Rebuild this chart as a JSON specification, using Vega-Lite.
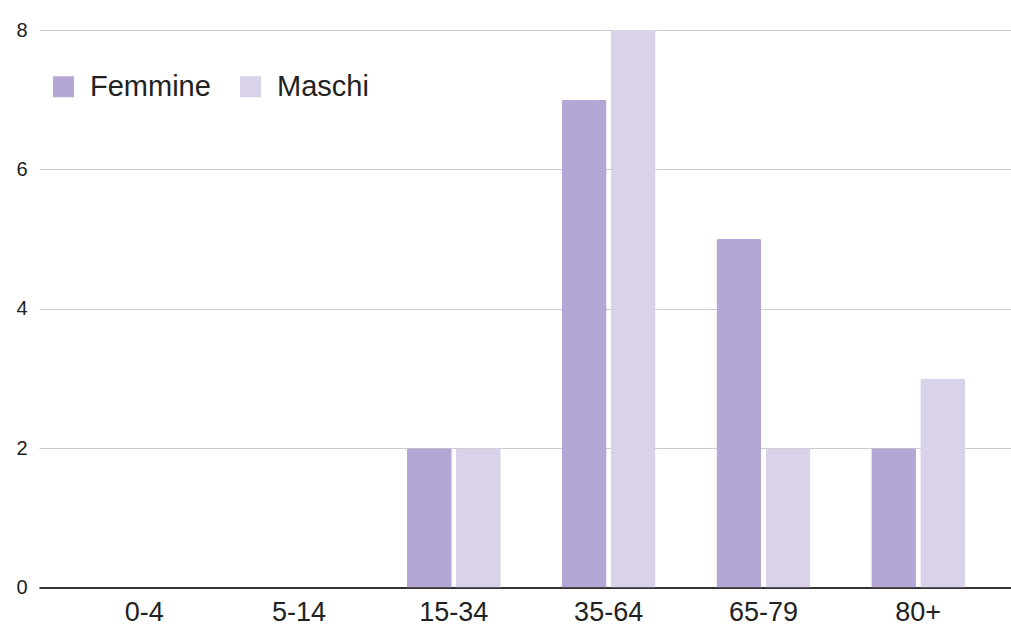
{
  "$schema": "https://vega.github.io/schema/vega-lite/v6.json",
  "autosize": {"type": "none"},
  "width": 972,
  "height": 557.5,
  "padding": {"left": 39, "top": 30, "right": 0, "bottom": 40.5},
  "background": "white",
  "config": {
    "view": {"stroke": null},
    "font": "Liberation Sans"
  },
  "data": {
    "values": [
      {"eta": "0-4", "sesso": "Femmine", "n": 0},
      {"eta": "0-4", "sesso": "Maschi", "n": 0},
      {"eta": "5-14", "sesso": "Femmine", "n": 0},
      {"eta": "5-14", "sesso": "Maschi", "n": 0},
      {"eta": "15-34", "sesso": "Femmine", "n": 2},
      {"eta": "15-34", "sesso": "Maschi", "n": 2},
      {"eta": "35-64", "sesso": "Femmine", "n": 7},
      {"eta": "35-64", "sesso": "Maschi", "n": 8},
      {"eta": "65-79", "sesso": "Femmine", "n": 5},
      {"eta": "65-79", "sesso": "Maschi", "n": 2},
      {"eta": "80+", "sesso": "Femmine", "n": 2},
      {"eta": "80+", "sesso": "Maschi", "n": 3}
    ]
  },
  "mark": {"type": "bar", "cornerRadiusTopLeft": 2, "cornerRadiusTopRight": 2},
  "encoding": {
    "x": {
      "field": "eta",
      "type": "nominal",
      "sort": null,
      "scale": {"paddingInner": 0.393, "paddingOuter": 0.336, "align": 0.56},
      "axis": {
        "title": null,
        "labelAngle": 0,
        "labelFontSize": 27,
        "labelColor": "#222222",
        "labelPadding": 12,
        "ticks": false,
        "domainColor": "#333333",
        "domainWidth": 2,
        "grid": false
      }
    },
    "xOffset": {
      "field": "sesso",
      "type": "nominal",
      "scale": {"paddingInner": 0.082, "paddingOuter": 0}
    },
    "y": {
      "field": "n",
      "type": "quantitative",
      "scale": {"domain": [0, 8], "nice": false},
      "axis": {
        "title": null,
        "values": [0, 2, 4, 6, 8],
        "labelFontSize": 20,
        "labelColor": "#222222",
        "labelPadding": 12,
        "ticks": false,
        "domain": false,
        "gridColor": "#cccccc",
        "gridWidth": 1
      }
    },
    "color": {
      "field": "sesso",
      "type": "nominal",
      "scale": {"domain": ["Femmine", "Maschi"], "range": ["#b4a7d6", "#d9d2e9"]},
      "legend": {
        "title": null,
        "orient": "none",
        "legendX": 10,
        "legendY": 42,
        "direction": "horizontal",
        "padding": 0,
        "symbolType": "square",
        "symbolSize": 441,
        "symbolStrokeWidth": 0,
        "symbolOpacity": 1,
        "labelFontSize": 29,
        "labelColor": "#222222",
        "labelOffset": 12,
        "columnPadding": 25
      }
    }
  }
}
